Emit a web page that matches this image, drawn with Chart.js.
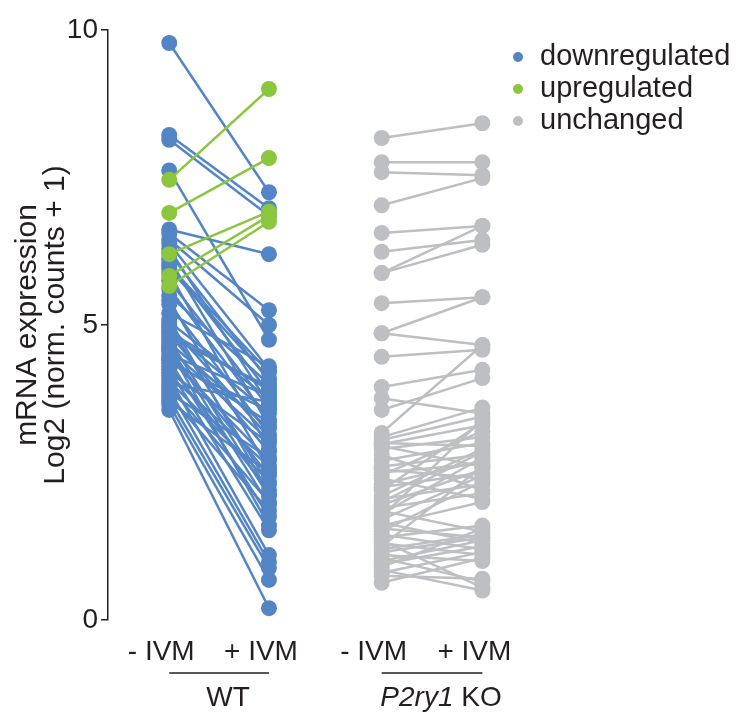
<!DOCTYPE html>
<html>
<head>
<meta charset="utf-8">
<script src="https://cdn.jsdelivr.net/npm/chart.js@4.4.0/dist/chart.umd.min.js"></script>
<style>
  html, body { margin: 0; padding: 0; background: #fff; }
  #wrap { width: 746px; height: 713px; }
</style>
</head>
<body>
<div id="wrap"><canvas id="pairChart" width="746" height="713"></canvas></div>
<script>
// expression values, log2(norm. counts + 1), before / after IVM
const wtDownBefore = [9.78, 8.22, 8.14, 7.62, 6.62, 6.55, 6.45, 6.38, 6.3, 6.22, 6.12, 6.05, 5.95, 5.88,
    5.75, 5.62, 5.5, 5.42, 5.35, 5.05, 4.98, 4.92, 4.85, 4.8, 4.75, 4.7, 4.65, 4.6, 4.55, 4.5, 4.45,
    4.4, 4.35, 4.3, 4.25, 4.2, 4.15, 4.1, 4.05, 4.0, 3.95, 3.9, 3.85, 3.8, 3.75, 3.7, 3.65, 3.56,
    4.42, 5.2, 4.88, 6.0, 5.1, 4.6, 5.0];
const wtDownAfter = [7.25, 6.98, 6.85, 4.75, 6.2, 5.25, 5.0, 4.25, 3.65, 4.05, 3.3, 3.85, 4.1, 2.9,
    3.6, 3.4, 4.0, 2.55, 3.15, 3.75, 2.3, 3.5, 2.85, 3.95, 2.1, 3.25, 1.95, 3.05, 2.45, 3.8, 2.7,
    1.75, 3.55, 2.2, 1.52, 3.0, 2.6, 1.1, 2.35, 3.7, 2.0, 0.98, 2.75, 1.85, 0.88, 2.5, 0.68, 0.2,
    3.35, 4.3, 3.9, 4.2, 2.15, 1.6, 3.1];

const wtUpBefore = [7.46, 6.9, 6.2, 5.83, 5.66];
const wtUpAfter = [9.0, 7.83, 6.92, 6.85, 6.75];

const koBefore = [8.17, 7.76, 7.59, 7.03, 6.56, 6.24, 5.88, 5.88, 5.37, 4.86, 4.86, 4.46, 3.95, 3.76,
    3.56, 3.17, 3.05, 3.0, 2.98, 2.95, 2.9, 2.8, 2.7, 2.6, 2.55, 2.45, 2.4, 2.3, 2.25, 2.2, 2.1, 2.05,
    1.95, 1.9, 1.85, 1.8, 1.7, 1.65, 1.6, 1.55, 1.5, 1.45, 1.4, 1.35, 1.3, 1.25, 1.2, 1.1, 1.05, 1.0,
    0.95, 0.9, 0.85, 0.8, 0.75, 0.63, 1.75, 2.5, 3.1, 2.0, 1.15];
const koAfter = [8.42, 7.76, 7.54, 7.49, 6.68, 6.44, 6.68, 6.36, 5.47, 5.47, 4.66, 4.58, 4.24, 3.5,
    4.1, 4.66, 3.45, 2.95, 3.3, 2.6, 3.1, 2.2, 3.0, 2.8, 2.4, 3.2, 2.05, 2.7, 2.5, 3.35, 2.9, 2.3,
    2.55, 2.15, 1.5, 2.75, 2.45, 1.3, 2.0, 1.4, 2.35, 1.2, 1.6, 0.55, 1.1, 2.6, 1.45, 1.0, 0.65, 1.35,
    1.25, 1.55, 0.5, 1.15, 0.7, 1.05, 3.4, 2.65, 3.6, 2.85, 1.4];

const tickNames = ['- IVM', '+ IVM', '- IVM', '+ IVM'];
const groupNames = ['WT', 'KO'];
const legendNames = ['downregulated', 'upregulated', 'unchanged'];

const BLUE = '#5385c5';
const GREEN = '#8cc63f';
const GREY = '#bebfc3';
const INK = '#231f20';
const FONT = '"Liberation Sans", Arial, Helvetica, sans-serif';

// x positions of the four conditions on the linear x scale
const xAt = [0, 1, 2.13, 3.14];

function pairSets(before, after, x0, x1, color) {
    return before.map((b, i) => ({
        data: [{ x: x0, y: b }, { x: x1, y: after[i] }],
        borderColor: color,
        backgroundColor: color,
        pointBackgroundColor: color,
        pointBorderWidth: 0,
        pointRadius: 8,
        borderWidth: 2.5,
        clip: false
    }));
}

// first dataset is painted last, so the green pairs go on top
const datasets = [
    ...pairSets(wtUpBefore, wtUpAfter, xAt[0], xAt[1], GREEN),
    ...pairSets(wtDownBefore, wtDownAfter, xAt[0], xAt[1], BLUE),
    ...pairSets(koBefore, koAfter, xAt[2], xAt[3], GREY)
];

// brackets and group names under the condition labels
const groupPlugin = {
    id: 'groups',
    afterDraw(chart) {
        const ctx = chart.ctx;
        const xs = chart.scales.x;
        const lineY = 673;
        const textY = 706;
        ctx.save();
        ctx.strokeStyle = INK;
        ctx.lineWidth = 1.5;
        ctx.fillStyle = INK;
        ctx.textBaseline = 'alphabetic';
        [[0, 1], [2, 3]].forEach((pair, g) => {
            const a = xs.getPixelForValue(xAt[pair[0]]);
            const b = xs.getPixelForValue(xAt[pair[1]]);
            ctx.beginPath();
            ctx.moveTo(a, lineY);
            ctx.lineTo(b, lineY);
            ctx.stroke();
            const mid = (a + b) / 2 + 9;
            if (g === 0) {
                ctx.font = '28px ' + FONT;
                ctx.textAlign = 'center';
                ctx.fillText(groupNames[0], mid, textY);
            } else {
                ctx.textAlign = 'left';
                ctx.font = 'italic 28px ' + FONT;
                const gene = 'P2ry1';
                const w1 = ctx.measureText(gene).width;
                ctx.font = '28px ' + FONT;
                const rest = ' ' + groupNames[1];
                const w2 = ctx.measureText(rest).width;
                const start = mid - (w1 + w2) / 2;
                ctx.font = 'italic 28px ' + FONT;
                ctx.fillText(gene, start, textY);
                ctx.font = '28px ' + FONT;
                ctx.fillText(rest, start + w1, textY);
            }
        });
        ctx.restore();
    }
};

// colour key in the top right corner
const keyPlugin = {
    id: 'key',
    afterDraw(chart) {
        const ctx = chart.ctx;
        const colors = [BLUE, GREEN, GREY];
        ctx.save();
        ctx.font = '29px ' + FONT;
        ctx.textBaseline = 'middle';
        ctx.textAlign = 'left';
        legendNames.forEach((name, i) => {
            const y = 57 + i * 32;
            ctx.fillStyle = colors[i];
            ctx.beginPath();
            ctx.arc(518, y, 5, 0, Math.PI * 2);
            ctx.fill();
            ctx.fillStyle = INK;
            ctx.fillText(name, 540, y);
        });
        ctx.restore();
    }
};

new Chart(document.getElementById('pairChart').getContext('2d'), {
    type: 'line',
    data: { datasets: datasets },
    options: {
        responsive: false,
        devicePixelRatio: 1,
        animation: false,
        layout: { padding: { top: 30, right: 0, left: 0, bottom: 0 } },
        plugins: {
            legend: { display: false },
            tooltip: { enabled: false }
        },
        scales: {
            x: {
                type: 'linear',
                min: -0.614,
                max: 5.703,
                afterBuildTicks: (scale) => {
                    scale.ticks = xAt.map(v => ({ value: v }));
                },
                afterFit: (scale) => { scale.height = 93; },
                grid: { display: false, drawTicks: false },
                border: { display: false },
                ticks: {
                    autoSkip: false,
                    maxRotation: 0,
                    padding: 15,
                    labelOffset: -8,
                    color: INK,
                    font: { family: FONT, size: 28 },
                    callback: (value, index) => tickNames[index]
                }
            },
            y: {
                min: 0,
                max: 10,
                afterFit: (scale) => { scale.width = 108; },
                border: { display: true, color: INK, width: 1.5 },
                grid: {
                    drawOnChartArea: false,
                    drawTicks: true,
                    tickLength: 7,
                    tickColor: INK,
                    lineWidth: 1.5
                },
                ticks: {
                    stepSize: 5,
                    padding: 3,
                    color: INK,
                    font: { family: FONT, size: 28 }
                },
                title: {
                    display: true,
                    text: ['mRNA expression', 'Log2 (norm. counts + 1)'],
                    color: INK,
                    font: { family: FONT, size: 30, lineHeight: 0.95 },
                    padding: { top: 13, bottom: 0 }
                }
            }
        }
    },
    plugins: [groupPlugin, keyPlugin]
});
</script>
</body>
</html>
